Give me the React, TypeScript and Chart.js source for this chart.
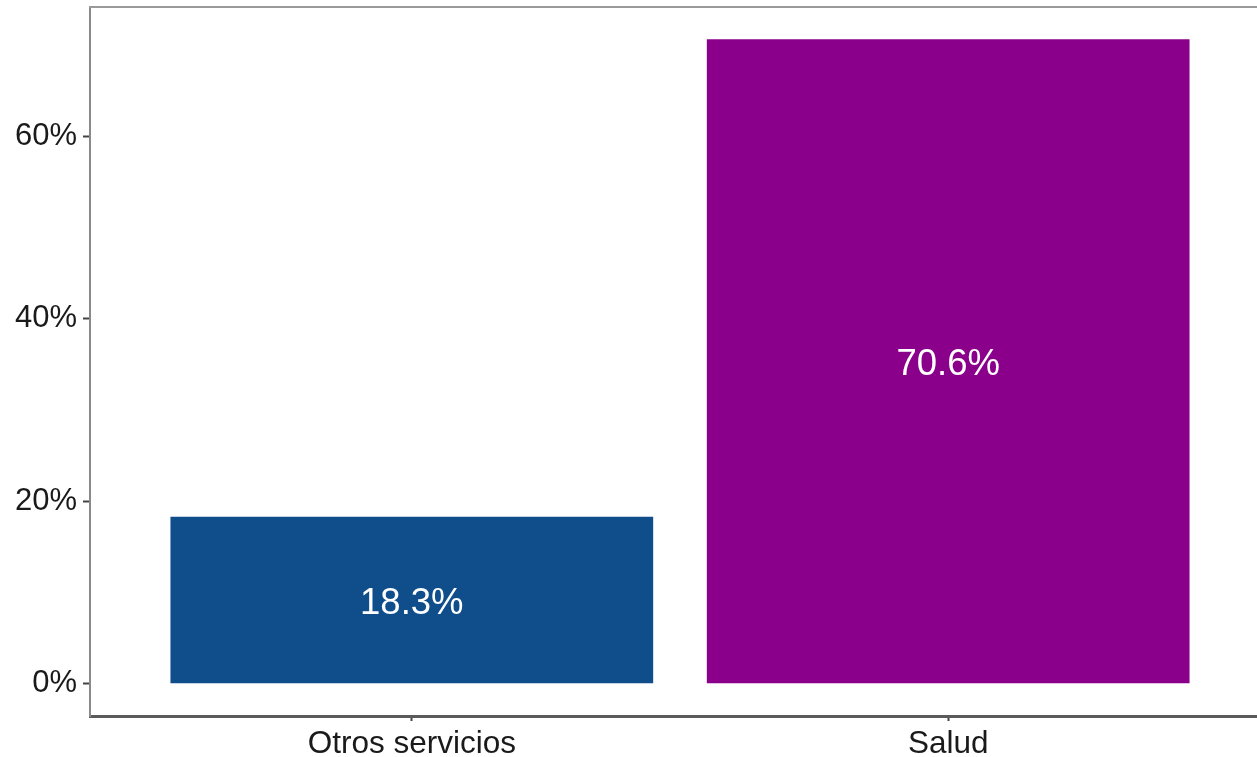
import React, { useEffect, useRef } from "react";
import { Chart, registerables } from "chart.js";

Chart.register(...registerables);

const categories = ["Otros servicios", "Salud"];
const values = [18.3, 70.6];
const barColors = ["#104E8B", "#8B008B"];
const yTicks = [0, 20, 40, 60];

const FONT = "'Liberation Sans', Arial, Helvetica, sans-serif";

const topBorderPlugin = {
  id: "topBorder",
  afterDraw(chart: any) {
    const { ctx, chartArea } = chart;
    ctx.save();
    ctx.strokeStyle = "#9a9a9a";
    ctx.lineWidth = 2;
    ctx.beginPath();
    ctx.moveTo(chartArea.left - 1, chartArea.top);
    ctx.lineTo(chartArea.right + 5, chartArea.top);
    ctx.stroke();
    ctx.restore();
  },
};

const barLabelPlugin = {
  id: "barLabels",
  afterDatasetsDraw(chart: any) {
    const { ctx } = chart;
    const meta = chart.getDatasetMeta(0);
    ctx.save();
    ctx.fillStyle = "#ffffff";
    ctx.font = `36.5px ${FONT}`;
    ctx.textAlign = "center";
    ctx.textBaseline = "middle";
    meta.data.forEach((el: any, i: number) => {
      const y = (el.y + el.base) / 2 + 4;
      ctx.fillText(values[i].toFixed(1) + "%", el.x, y);
    });
    ctx.restore();
  },
};

export default function App() {
  const ref = useRef<HTMLCanvasElement>(null);

  useEffect(() => {
    if (!ref.current) return;
    const chart = new Chart(ref.current, {
      type: "bar",
      data: {
        datasets: [
          {
            data: values.map((v, i) => ({ x: i + 1, y: v })),
            backgroundColor: barColors,
            borderWidth: 0,
            categoryPercentage: 1,
            barPercentage: 0.9,
          },
        ],
      },
      options: {
        responsive: false,
        animation: false,
        layout: { padding: { top: 7, right: 0, left: 0, bottom: 0 } },
        plugins: { legend: { display: false }, tooltip: { enabled: false } },
        scales: {
          x: {
            type: "linear",
            offset: false,
            min: 0.4,
            max: 2.6,
            afterBuildTicks: (scale: any) => {
              scale.ticks = categories.map((_, i) => ({ value: i + 1 }));
            },
            afterFit: (scale: any) => {
              scale.height = 41;
              scale.paddingLeft = 0;
              scale.paddingRight = 0;
            },
            grid: {
              offset: false,
              drawOnChartArea: false,
              drawTicks: true,
              tickLength: 5,
              tickColor: "#444",
              tickWidth: 2,
            },
            border: { display: true, color: "#5a5a5a", width: 3 },
            ticks: {
              autoSkip: false,
              maxRotation: 0,
              padding: 4,
              color: "#1a1a1a",
              font: { family: FONT, size: 31.5 },
              callback: (v: any) => categories[Math.round(Number(v)) - 1] ?? "",
            },
          },
          y: {
            type: "linear",
            min: -3.53,
            max: 74.13,
            afterBuildTicks: (scale: any) => {
              scale.ticks = yTicks.map((v) => ({ value: v }));
            },
            afterFit: (scale: any) => {
              scale.width = 90;
              scale.paddingTop = 0;
              scale.paddingBottom = 0;
            },
            grid: {
              drawOnChartArea: false,
              drawTicks: true,
              tickLength: 7,
              tickColor: "#444",
              tickWidth: 2,
            },
            border: { display: true, color: "#8a8a8a", width: 2 },
            ticks: {
              padding: 6,
              color: "#1a1a1a",
              font: { family: FONT, size: 31 },
              callback: (v: any) => `${v}%`,
            },
          },
        },
      },
      plugins: [topBorderPlugin, barLabelPlugin],
    } as any);
    return () => chart.destroy();
  }, []);

  return (
    <div
      style={{
        position: "absolute",
        left: 0,
        top: 0,
        width: 1257,
        height: 757,
        overflow: "hidden",
        background: "#fff",
      }}
    >
      <canvas ref={ref} width={1270} height={757} style={{ width: 1270, height: 757, display: "block" }} />
    </div>
  );
}
